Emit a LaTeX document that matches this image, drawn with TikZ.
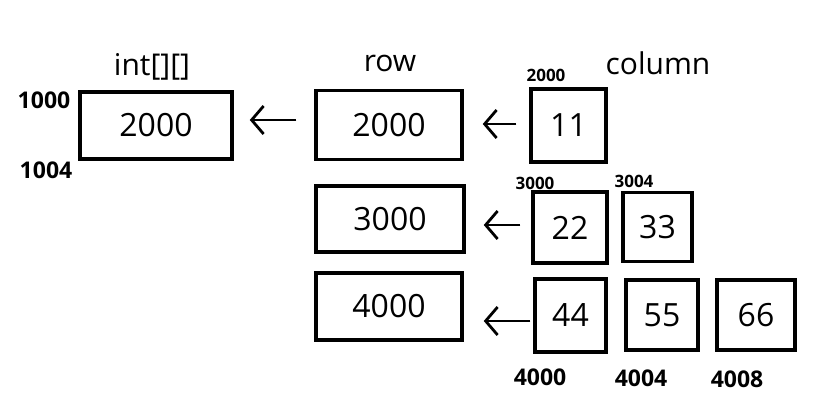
\documentclass[tikz,border=0pt]{standalone}
\usepackage{fontspec}
\setmainfont{Open Sans}
\usetikzlibrary{arrows.meta}
\begin{document}
\begin{tikzpicture}[x=1pt,y=-1pt,
  cell/.style={draw,line width=3.5pt,inner sep=0pt,font=\fontsize{32}{32}\selectfont},
  lbl/.style={inner sep=0pt,font=\fontsize{30}{30}\selectfont},
  addr/.style={inner sep=0pt,font=\fontsize{23}{23}\selectfont\bfseries},
  tiny/.style={inner sep=0pt,font=\fontsize{17}{17}\selectfont\bfseries},
  ptr/.style={line width=2.8pt,-{Straight Barb[length=12pt,width=28pt,line width=2.8pt]}}]
\useasboundingbox[fill=white] (0,0) rectangle (818,415);
% boxes
\node[cell,minimum width=152pt,minimum height=67pt] (A) at (156,125.5) {2000};
\node[cell,minimum width=146pt,minimum height=69pt] (r1) at (389,125) {2000};
\node[cell,minimum width=148pt,minimum height=66pt] (r2) at (390,219) {3000};
\node[cell,minimum width=146pt,minimum height=67pt] (r3) at (389,306.5) {4000};
\node[cell,minimum width=75pt,minimum height=73pt] (c11) at (568.5,125.5) {11};
\node[cell,minimum width=74pt,minimum height=71pt] (c22) at (570,227.5) {22};
\node[cell,minimum width=69pt,minimum height=69pt] (c33) at (657.5,227) {33};
\node[cell,minimum width=71pt,minimum height=73pt] (c44) at (570.5,315.5) {44};
\node[cell,minimum width=72pt,minimum height=70pt] (c55) at (662,315) {55};
\node[cell,minimum width=78pt,minimum height=70pt] (c66) at (756,315) {66};
% headings
\node[lbl] (tA) at (152,67) {int[][]};
\node[lbl] (trow) at (390,63) {row};
\node[lbl] (tcol) at (658,63) {column};
% addresses
\node[addr] (a1000) at (44,100) {1000};
\node[addr] (a1004) at (46,170) {1004};
\node[tiny] (a2000) at (546,75) {2000};
\node[tiny] (a3000) at (535,183) {3000};
\node[tiny] (a3004) at (634,181) {3004};
\node[addr] (a4000) at (540,377) {4000};
\node[addr] (a4004) at (641,378) {4004};
\node[addr] (a4008) at (737,379) {4008};
% pointers (y axis points down, so yshift is inverted)
\draw[ptr] ([xshift=-18pt,yshift=5pt]r1.west) -- ([xshift=16pt,yshift=5.5pt]A.east);
\draw[ptr] ([xshift=-13pt,yshift=1.5pt]c11.west) -- ([xshift=19pt,yshift=1pt]r1.east);
\draw[ptr] ([xshift=-11pt,yshift=2.5pt]c22.west) -- ([xshift=18pt,yshift=-6pt]r2.east);
\draw[ptr] ([xshift=-3pt,yshift=-5.5pt]c44.west) -- ([xshift=20pt,yshift=-14.5pt]r3.east);
\end{tikzpicture}
\end{document}
